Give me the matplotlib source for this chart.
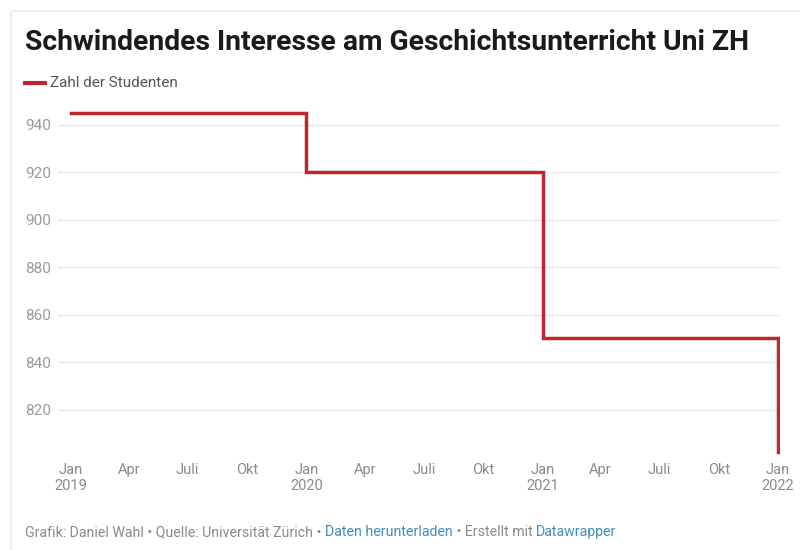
import matplotlib.pyplot as plt
import matplotlib.dates as mdates
import numpy as np
from datetime import datetime, timedelta
from matplotlib.lines import Line2D

# data
dates = [datetime(2019, 1, 1), datetime(2020, 1, 1), datetime(2021, 1, 1), datetime(2022, 1, 1)]
studenten = [945, 920, 850, 802]

yticks = [820, 840, 860, 880, 900, 920, 940]
xtick_dates = [datetime(y, m, 1) for y in (2019, 2020, 2021) for m in (1, 4, 7, 10)] + [datetime(2022, 1, 1)]
month_names = {1: "Jan", 4: "Apr", 7: "Juli", 10: "Okt"}
xtick_labels = [month_names[d.month] + ("\n%d" % d.year if d.month == 1 else "") for d in xtick_dates]

plt.rcParams['font.family'] = ['Roboto', 'DejaVu Sans']

W, H = 800, 550
fig = plt.figure(figsize=(8, 5.5), dpi=100)
ax = fig.add_axes([58 / W, 1 - 457 / H, (780 - 58) / W, (457 - 101) / H])

ax.step(dates, studenten, where='post', color='#bd282e', lw=2.5, solid_joinstyle='miter')

ax.set_xlim(datetime(2019, 1, 1) - timedelta(days=20), datetime(2022, 1, 1) + timedelta(days=3))
ax.set_ylim(800, 950)

ax.set_yticks(yticks)
ax.set_yticklabels([str(v) for v in yticks])
for lab in ax.get_yticklabels():
    lab.set_horizontalalignment('left')
ax.tick_params(axis='y', length=0, pad=33 * 0.72, labelsize=11, labelcolor='#9a9a9a')

ax.set_xticks(xtick_dates)
ax.set_xticklabels(xtick_labels)
ax.tick_params(axis='x', length=0, pad=4, labelsize=10.5, labelcolor='#8a8a8a')

ax.grid(axis='y', color='#e6e6e6', lw=1)
ax.set_axisbelow(True)
for s in ax.spines.values():
    s.set_visible(False)

# title, legend
fig.text(25 / W, 1 - 42 / H, "Schwindendes Interesse am Geschichtsunterricht Uni ZH",
         fontsize=20.3, fontweight='bold', color='#1a1a1a', va='center', ha='left')
fig.add_artist(Line2D([25 / W, 45 / W], [1 - 83 / H, 1 - 83 / H], color='#bd282e', lw=3))
fig.text(50 / W, 1 - 83 / H, "Zahl der Studenten", fontsize=11, color='#555555', va='center', ha='left')

# footer with links
parts = [("Grafik: Daniel Wahl \u2022 Quelle: Universität Zürich \u2022 ", '#8a8a8a'),
         ("Daten herunterladen", '#3f8ebf'),
         (" \u2022 Erstellt mit ", '#8a8a8a'),
         ("Datawrapper", '#3f8ebf')]
renderer = fig.canvas.get_renderer()
x = 25
for txt, col in parts:
    t = fig.text(x / W, 1 - 532 / H, txt, fontsize=10.2, color=col, va='center', ha='left')
    x += t.get_window_extent(renderer).width

# faint frame
fig.add_artist(Line2D([11 / W, 1], [1 - 11 / H, 1 - 11 / H], color='#eeeeee', lw=1.5))
fig.add_artist(Line2D([11 / W, 11 / W], [0, 1 - 11 / H], color='#eeeeee', lw=1.5))

fig.savefig("out.png", dpi=100, facecolor='white')
